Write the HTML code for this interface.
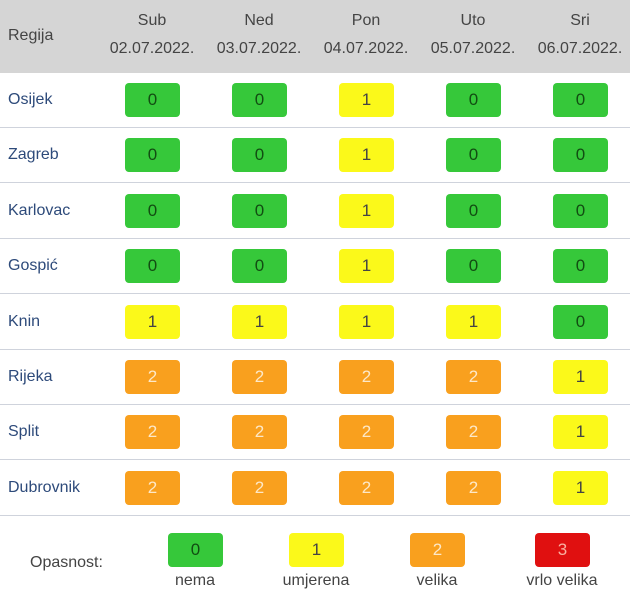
<!DOCTYPE html>
<html><head><meta charset="utf-8"><style>
*{margin:0;padding:0;box-sizing:border-box}
body{width:630px;height:600px;background:#fff;font-family:"Liberation Sans",sans-serif;position:relative;overflow:hidden}
.hdr{position:absolute;left:0;top:0;width:630px;height:73px;background:#d5d5d5}
.t{position:absolute;color:#444;font-size:16px;text-align:center;white-space:nowrap}
.reg{position:absolute;left:8px;color:#2d4a7a;font-size:16px;line-height:20px}
.line{position:absolute;left:0;width:630px;height:1px;background:#cfd3dc}
.b{position:absolute;width:55px;height:34px;border-radius:4px;text-align:center;line-height:34px;font-size:17px}
.g{background:#36c83a;color:#124d12}
.y{background:#fbf91a;color:#444}
.o{background:#f9a01e;color:#fde8c8}
.r{background:#e01010;color:#f9b0a0}
</style></head><body>
<div class="hdr"></div>
<div class="t" style="left:8px;top:27px;text-align:left">Regija</div>
<div class="t" style="left:102px;width:100px;top:12px">Sub</div><div class="t" style="left:97px;width:110px;top:40px">02.07.2022.</div>
<div class="t" style="left:209px;width:100px;top:12px">Ned</div><div class="t" style="left:204px;width:110px;top:40px">03.07.2022.</div>
<div class="t" style="left:316px;width:100px;top:12px">Pon</div><div class="t" style="left:311px;width:110px;top:40px">04.07.2022.</div>
<div class="t" style="left:423px;width:100px;top:12px">Uto</div><div class="t" style="left:418px;width:110px;top:40px">05.07.2022.</div>
<div class="t" style="left:530px;width:100px;top:12px">Sri</div><div class="t" style="left:525px;width:110px;top:40px">06.07.2022.</div>
<div id="rows"></div>
<script>
var names=["Osijek","Zagreb","Karlovac","Gospić","Knin","Rijeka","Split","Dubrovnik"];
var v=["00100","00100","00100","00100","11110","22221","22221","22221"];
var cls={"0":"g","1":"y","2":"o"};
var xs=[125,232,339,446,553];
var h="";
for(var i=0;i<8;i++){var cy=100+i*55.4;
h+='<div class="reg" style="top:'+(cy-10)+'px">'+names[i]+'</div>';
for(var j=0;j<5;j++){var c=v[i][j];h+='<div class="b '+cls[c]+'" style="left:'+xs[j]+'px;top:'+(cy-17)+'px">'+c+'</div>';}
h+='<div class="line" style="top:'+(cy+27)+'px"></div>';}
document.getElementById("rows").innerHTML=h;
</script>
<div class="t" style="left:30px;top:554px">Opasnost:</div>
<div class="b g" style="left:168px;top:533px">0</div>
<div class="b y" style="left:289px;top:533px">1</div>
<div class="b o" style="left:410px;top:533px">2</div>
<div class="b r" style="left:535px;top:533px">3</div>
<div class="t" style="left:145px;width:100px;top:572px">nema</div>
<div class="t" style="left:266px;width:100px;top:572px">umjerena</div>
<div class="t" style="left:387px;width:100px;top:572px">velika</div>
<div class="t" style="left:512px;width:100px;top:572px">vrlo velika</div>
</body></html>
